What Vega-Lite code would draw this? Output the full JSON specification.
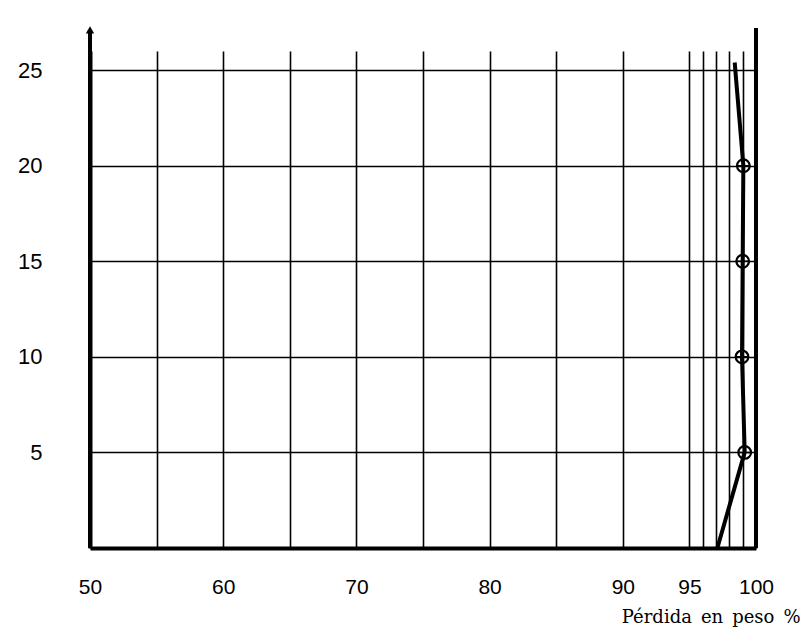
{
  "$schema": "https://vega.github.io/schema/vega-lite/v6.json",
  "width": 666,
  "height": 497,
  "autosize": "none",
  "padding": {"left": 90, "top": 51, "right": 55, "bottom": 93},
  "background": "white",
  "config": {"view": {"stroke": null}},
  "datasets": {
    "curve": [
      {"x": 97.1, "y": 0, "marker": false},
      {"x": 99.15, "y": 5, "marker": true},
      {"x": 98.95, "y": 10, "marker": true},
      {"x": 99.0, "y": 15, "marker": true},
      {"x": 99.05, "y": 20, "marker": true},
      {"x": 98.4, "y": 25.4, "marker": false}
    ],
    "frame": [{"x": 100, "y": 0, "y2": 27.2}, {"x": 50, "y": 0, "y2": 27.0}],
    "arrow": [{"x": 50, "y": 27.1}]
  },
  "layer": [
    {
      "data": {"name": "curve"},
      "mark": {"type": "line", "color": "black", "strokeWidth": 4},
      "encoding": {
        "x": {
          "field": "x", "type": "quantitative",
          "scale": {"domain": [50, 100], "nice": false, "zero": false},
          "axis": {
            "values": [50, 55, 60, 65, 70, 75, 80, 85, 90, 95, 96, 97, 98, 99, 100],
            "labelExpr": "(datum.value % 10 == 0 || datum.value == 95) ? datum.label : ''",
            "grid": true, "gridColor": "black", "gridWidth": 1.6, "gridOpacity": 1,
            "ticks": false, "domainColor": "black", "domainWidth": 4,
            "labelFont": "Liberation Sans", "labelFontSize": 21, "labelColor": "black",
            "labelPadding": 28, "labelOverlap": false, "labelBound": false, "labelFlush": false,
            "title": "Pérdida\u2002en\u2002peso\u2002%", "titleFont": "DejaVu Serif", "titleFontSize": 18,
            "titleFontWeight": "normal", "titleColor": "black",
            "titleX": 710, "titleY": 69, "titleAlign": "right", "titleBaseline": "middle"
          }
        },
        "y": {
          "field": "y", "type": "quantitative",
          "scale": {"domain": [0, 26], "nice": false},
          "axis": {
            "values": [5, 10, 15, 20, 25],
            "grid": true, "gridColor": "black", "gridWidth": 1.6, "gridOpacity": 1,
            "ticks": false, "domainColor": "black", "domainWidth": 4,
            "labelFont": "Liberation Sans", "labelFontSize": 22, "labelColor": "black",
            "labelPadding": 48, "title": null
          }
        },
        "order": {"field": "y", "type": "quantitative"}
      }
    },
    {
      "data": {"name": "frame"},
      "mark": {"type": "rule", "color": "black", "strokeWidth": 4},
      "encoding": {
        "x": {"field": "x", "type": "quantitative"},
        "y": {"field": "y", "type": "quantitative"},
        "y2": {"field": "y2"}
      }
    },
    {
      "data": {"name": "arrow"},
      "mark": {"type": "point", "shape": "triangle-up", "filled": true, "color": "black", "size": 70, "opacity": 1},
      "encoding": {
        "x": {"field": "x", "type": "quantitative"},
        "y": {"field": "y", "type": "quantitative"}
      }
    },
    {
      "data": {"name": "curve"},
      "transform": [{"filter": "datum.marker"}],
      "mark": {"type": "point", "shape": "circle", "filled": false, "stroke": "black", "strokeWidth": 2.2, "size": 160, "opacity": 1},
      "encoding": {
        "x": {"field": "x", "type": "quantitative"},
        "y": {"field": "y", "type": "quantitative"}
      }
    },
    {
      "data": {"name": "curve"},
      "transform": [{"filter": "datum.marker"}],
      "mark": {"type": "point", "shape": "M-1,0L1,0M0,-1L0,1", "filled": false, "stroke": "black", "strokeWidth": 1.5, "size": 130, "opacity": 1},
      "encoding": {
        "x": {"field": "x", "type": "quantitative"},
        "y": {"field": "y", "type": "quantitative"}
      }
    }
  ]
}
